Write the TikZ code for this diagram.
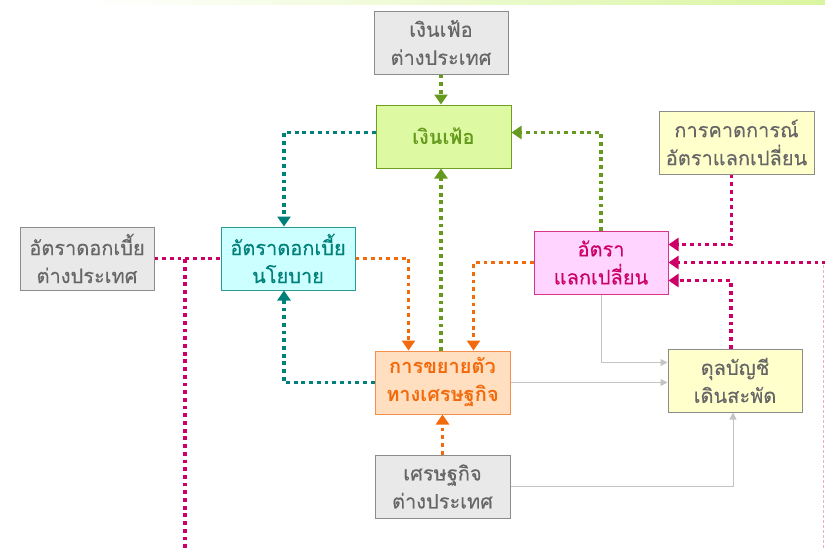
\documentclass[tikz,border=0pt]{standalone}
\usepackage{fontspec}
\newfontfamily\thai[Script=Thai, FakeBold=0.25]{Loma}
\newfontfamily\thaibold[Script=Thai]{Loma Bold}
\usetikzlibrary{arrows.meta}

\definecolor{boxgrey}{HTML}{E9E9E9}
\definecolor{edgegrey}{HTML}{8C8C8C}
\definecolor{txtgrey}{HTML}{666666}
\definecolor{inffill}{HTML}{DDFAA2}
\definecolor{infedge}{HTML}{6FA020}
\definecolor{inftxt}{HTML}{669A1E}
\definecolor{yelfill}{HTML}{FFFFCC}
\definecolor{polfill}{HTML}{CCFFFF}
\definecolor{poledge}{HTML}{2A9A94}
\definecolor{teal}{HTML}{00807A}
\definecolor{exfill}{HTML}{FFD5FF}
\definecolor{exedge}{HTML}{D8358A}
\definecolor{magenta}{HTML}{CC0066}
\definecolor{grofill}{HTML}{FFDFC0}
\definecolor{groedge}{HTML}{F39050}
\definecolor{orange}{HTML}{F26A0C}
\definecolor{flowgrey}{HTML}{C4C4C4}
\definecolor{pinkdash}{HTML}{F5A8CC}
\definecolor{topbar}{HTML}{DAF5A0}

\tikzset{
  box/.style={draw, line width=1pt, minimum width=134pt, minimum height=63pt,
    inner sep=0pt, align=center, font=\thai\fontsize{20}{28}\selectfont},
  boldbox/.style={box, font=\thaibold\fontsize{20}{28}\selectfont},
  extbox/.style={box, fill=boxgrey, draw=edgegrey, text=txtgrey},
  yelbox/.style={box, fill=yelfill, draw=edgegrey, text=txtgrey},
  dotline/.style={line width=3.6pt, dash pattern=on 3.8pt off 3.9pt},
  tip/.style={-{Triangle[width=13pt,length=10pt]}},
  greenflow/.style={dotline, draw=inftxt, tip},
  tealflow/.style={dotline, draw=teal, tip},
  orangeflow/.style={dotline, draw=orange, tip},
  magflow/.style={dotline, draw=magenta, tip},
  greyflow/.style={line width=0.9pt, draw=flowgrey, -{Triangle[width=7pt,length=7pt]}},
}

\begin{document}
\begin{tikzpicture}[x=1pt, y=-1pt]
\useasboundingbox (0,0) rectangle (825,547);

% light band along the top edge
\shade[left color=white, right color=topbar] (90,0) rectangle (825,4);

% boxes
\node[extbox] (finf) at (441,42.5) {เงินเฟ้อ\\ต่างประเทศ};
\node[boldbox, fill=inffill, draw=infedge, text=inftxt, minimum width=135pt] (inf) at (443.5,136.5) {เงินเฟ้อ};
\node[yelbox, minimum width=155pt] (exp) at (736.5,142.5) {การคาดการณ์\\อัตราแลกเปลี่ยน};
\node[extbox] (fint) at (87,258.5) {อัตราดอกเบี้ย\\ต่างประเทศ};
\node[box, fill=polfill, draw=poledge, text=teal] (pol) at (288,258.5) {อัตราดอกเบี้ย\\นโยบาย};
\node[box, fill=exfill, draw=exedge, text=magenta] (exr) at (601,262.5) {อัตรา\\แลกเปลี่ยน};
\node[boldbox, fill=grofill, draw=groedge, text=orange, minimum width=135pt] (gro) at (442.5,382.5) {การขยายตัว\\ทางเศรษฐกิจ};
\node[yelbox] (ca) at (735,380.5) {ดุลบัญชี\\เดินสะพัด};
\node[extbox, minimum width=135pt] (feco) at (442.5,486.5) {เศรษฐกิจ\\ต่างประเทศ};

% loose ends running off the edges
\coordinate (lowL) at (185,548);
\coordinate (rEdge) at (826,262.5);
\coordinate (dashTop) at (823,265);
\coordinate (dashLow) at (823,548);

% inflation links
\draw[greenflow] (finf.south) -- (finf.south |- inf.north);
\draw[greenflow] (gro.north -| finf.south) -- (inf.south -| finf.south);
\draw[greenflow] (exr.north) |- ([yshift=4pt]inf.east);

% policy rate links
\draw[tealflow] ([yshift=4pt]inf.west) -| ([xshift=-4pt]pol.north);
\draw[tealflow] (gro.west) -| ([xshift=-4pt]pol.south);

% growth links
\draw[orangeflow] (pol.east) -| ([xshift=34pt]gro.north west);
\draw[orangeflow] (exr.west) -| ([xshift=-37pt]gro.north east);
\draw[orangeflow] (feco.north) -- (gro.south);

% current account inputs
\draw[greyflow] (exr.south) |- ([yshift=-14pt]ca.north west);
\draw[greyflow] (gro.east) -- (gro.east -| ca.west);
\draw[greyflow] (feco.east) -| ([xshift=-2pt]ca.south);

% exchange rate inputs
\draw[magflow] ([xshift=-5pt]exp.south) |- ([yshift=-14pt]exr.north east);
\draw[magflow] (rEdge) -- (exr.east);
\draw[magflow] ([xshift=-4pt]ca.north) |- ([yshift=14pt]exr.south east);

% foreign interest rate
\draw[dotline, draw=magenta] (fint.east) -- (pol.west);
\draw[dotline, draw=magenta] (lowL) -- (lowL |- fint.east);

% thin dashed guide on the right edge
\draw[line width=0.8pt, draw=pinkdash, dash pattern=on 3pt off 2pt] (dashTop) -- (dashLow);
\end{tikzpicture}
\end{document}
